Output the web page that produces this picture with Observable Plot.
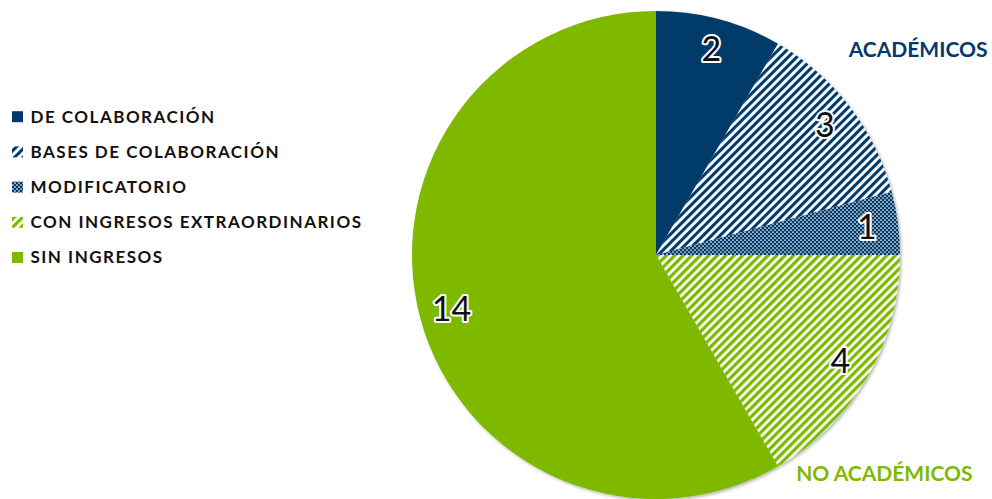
<!DOCTYPE html>
<html><head><meta charset="utf-8">
<script src="https://cdn.jsdelivr.net/npm/d3@7"></script>
<script src="https://cdn.jsdelivr.net/npm/@observablehq/plot@0.6"></script>
<style>body{margin:0;background:#fff}</style>
</head><body><div id="chart"></div>
<script>
const categories = ["DE COLABORACIÓN","BASES DE COLABORACIÓN","MODIFICATORIO","CON INGRESOS EXTRAORDINARIOS","SIN INGRESOS"];
const values = [2, 3, 1, 4, 14];
const fills = ["#043a6b","url(#hatchBlue)","url(#dotsBlue)","url(#hatchGreen)","#7eb900"];
const groupLabels = ["ACADÉMICOS","NO ACADÉMICOS"];
const groupColors = ["#043a6b","#7eb900"];

const W = 992, H = 499, CX = 656, CY = 255, R = 244;
const LEG_X = 12, LEG_Y0 = 116.7, LEG_DY = 35.2;

const data = categories.map((c, i) => ({category: c, value: values[i], fill: fills[i], i}));
const arcs = d3.pie().sort(null).value(d => d.value)(data);
const labelArc = d3.arc().innerRadius(R * 0.87).outerRadius(R * 0.87);
arcs.forEach(a => { const [lx, ly] = labelArc.centroid(a); a.lx = CX + lx; a.ly = CY + ly; a.label = String(a.data.value); });

function pieMark(index, scales) {
  const {x, y} = scales;
  const cx = x(CX), cy = y(CY), r = x(CX + R) - x(CX);
  const arc = d3.arc().innerRadius(0).outerRadius(r);
  const g = d3.create("svg:g");
  const defs = g.append("defs");
  const hb = defs.append("pattern").attr("id", "hatchBlue").attr("patternUnits", "userSpaceOnUse")
    .attr("width", 6).attr("height", 6).attr("patternTransform", "rotate(45)");
  hb.append("rect").attr("width", 6).attr("height", 6).attr("fill", "#fff");
  hb.append("rect").attr("width", 3.1).attr("height", 6).attr("fill", "#043a6b");
  const hg = defs.append("pattern").attr("id", "hatchGreen").attr("patternUnits", "userSpaceOnUse")
    .attr("width", 6).attr("height", 6).attr("patternTransform", "rotate(45)");
  hg.append("rect").attr("width", 6).attr("height", 6).attr("fill", "#fff");
  hg.append("rect").attr("width", 3.3).attr("height", 6).attr("fill", "#7eb900");
  const db = defs.append("pattern").attr("id", "dotsBlue").attr("patternUnits", "userSpaceOnUse")
    .attr("width", 4).attr("height", 4);
  db.append("rect").attr("width", 4).attr("height", 4).attr("fill", "#043a6b");
  db.append("circle").attr("cx", 1).attr("cy", 1).attr("r", 0.85).attr("fill", "#fff");
  db.append("circle").attr("cx", 3).attr("cy", 3).attr("r", 0.85).attr("fill", "#fff");
  const f = defs.append("filter").attr("id", "shadow").attr("x", "-5%").attr("y", "-5%").attr("width", "110%").attr("height", "110%");
  f.append("feDropShadow").attr("dx", 1.5).attr("dy", 1.5).attr("stdDeviation", 1.5)
    .attr("flood-color", "#000").attr("flood-opacity", 0.3);
  g.append("g").attr("transform", `translate(${cx},${cy})`).attr("filter", "url(#shadow)")
    .selectAll("path").data(arcs).join("path").attr("d", arc).attr("fill", d => d.data.fill);
  return g.node();
}

const chart = Plot.plot({
  width: W, height: H, margin: 0,
  x: {domain: [0, W], range: [0, W], axis: null},
  y: {domain: [0, H], range: [0, H], axis: null},
  color: {type: "identity"},
  marks: [
    pieMark,
    Plot.text(arcs, {x: "lx", y: "ly", text: "label", fontSize: 34, fontFamily: "Lato, sans-serif",
      fill: "#111", stroke: "#fff", strokeWidth: 4, textAnchor: "middle", lineAnchor: "middle"}),
    Plot.rect(data, {x1: LEG_X, x2: LEG_X + 11, y1: d => LEG_Y0 + d.i * LEG_DY - 5.5, y2: d => LEG_Y0 + d.i * LEG_DY + 5.5, fill: "fill"}),
    Plot.text(data, {x: LEG_X + 18, y: d => LEG_Y0 + d.i * LEG_DY, text: "category", textAnchor: "start", lineAnchor: "middle",
      fontSize: 17, fontWeight: "bold", fontFamily: "Lato, sans-serif", fill: "#111"}),
    Plot.text([0, 1], {x: i => [987, 972][i], y: i => [50, 474][i], text: i => groupLabels[i], fill: i => groupColors[i],
      textAnchor: "end", lineAnchor: "middle", fontSize: 21, fontWeight: "bold", fontFamily: "Lato, sans-serif"})
  ]
});
const textGroups = chart.querySelectorAll('g[aria-label="text"]');
if (textGroups[1]) textGroups[1].setAttribute("letter-spacing", "1.5");
document.getElementById("chart").appendChild(chart);
</script>
</body></html>
